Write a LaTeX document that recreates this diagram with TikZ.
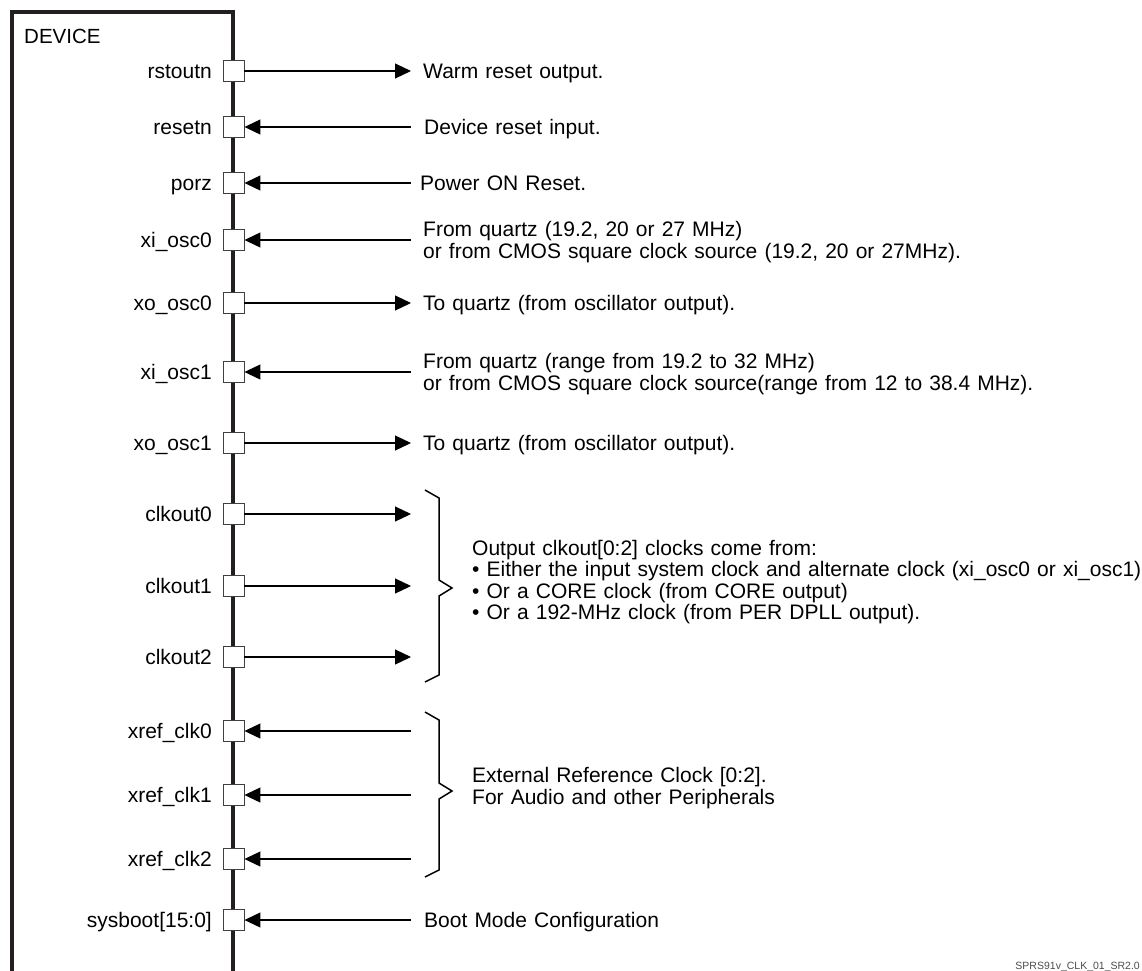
\documentclass[tikz,border=0pt]{standalone}
\usepackage{fontspec}
\setmainfont{Liberation Sans}
\usetikzlibrary{arrows.meta}
\definecolor{boxline}{HTML}{231F20}
\newcommand{\dfont}{\fontsize{21}{22}\selectfont\spaceskip=7.1pt plus 1pt minus 1pt\relax}
\newcommand{\mfont}{\fontsize{21}{21.5}\selectfont\spaceskip=7.1pt plus 1pt minus 1pt\relax}
\begin{document}
\begin{tikzpicture}[x=1pt,y=-1pt,
  pin/.style={draw=black!75,line width=0.9pt,fill=white,minimum size=21pt,inner sep=0pt},
  pinlabel/.style={anchor=base east,inner sep=0pt,font=\dfont},
  desc/.style={anchor=base west,inner sep=0pt,font=\dfont},
  mdesc/.style={anchor=west,inner sep=0pt,align=left,font=\mfont},
  conn/.style={line width=1.1pt},
  outarrow/.style={conn,-{Triangle[length=16pt,width=15pt]}},
  inarrow/.style={conn,{Triangle[length=16pt,width=15pt]}-},
  brace/.style={line width=1.5pt,line join=miter}]
\useasboundingbox (0,0) rectangle (1142,970);
% device box
\draw[boxline,line width=3.5pt] (12,972) -- (12,12) -- (233,12) -- (233,972);
\node[anchor=base west,inner sep=0pt,font=\fontsize{20.5}{22}\selectfont] (dev) at (24,43) {DEVICE};

% pins
\foreach \n/\y/\t in {p1/71/rstoutn,p2/127/resetn,p3/183/porz,p4/240/xi\_osc0,p5/303/xo\_osc0,p6/372/xi\_osc1,p7/443/xo\_osc1,p8/514/clkout0,p9/586/clkout1,p10/657/clkout2,p11/731/xref\_clk0,p12/795/xref\_clk1,p13/859/xref\_clk2,p14/920/sysboot[15:0]}{
  \node[pin] (\n) at (233.5,\y) {};
  \node[pinlabel] (l\n) at (212,\y+7.5) {\t};
  \coordinate (e\n) at (411,\y);
}

% connectors
\draw[outarrow] (p1.east) -- (ep1);
\draw[inarrow] (p2.east) -- (ep2);
\draw[inarrow] (p3.east) -- (ep3);
\draw[inarrow] (p4.east) -- (ep4);
\draw[outarrow] (p5.east) -- (ep5);
\draw[inarrow] (p6.east) -- (ep6);
\draw[outarrow] (p7.east) -- (ep7);
\draw[outarrow] (p8.east) -- (ep8);
\draw[outarrow] (p9.east) -- (ep9);
\draw[outarrow] (p10.east) -- (ep10);
\draw[inarrow] (p11.east) -- (ep11);
\draw[inarrow] (p12.east) -- (ep12);
\draw[inarrow] (p13.east) -- (ep13);
\draw[inarrow] (p14.east) -- (ep14);

% descriptions
\node[desc] (t1) at (423,78.5) {Warm reset output.};
\node[desc] (t2) at (424,134.5) {Device reset input.};
\node[desc] (t3) at (420,190.5) {Power ON Reset.};
\node[mdesc] (t4) at (423,242) {From quartz (19.2, 20 or 27 MHz)\\or from CMOS square clock source (19.2, 20 or 27MHz).};
\node[desc] (t5) at (423,310.5) {To quartz (from oscillator output).};
\node[mdesc] (t6) at (423,374) {From quartz (range from 19.2 to 32 MHz)\\or from CMOS square clock source(range from 12 to 38.4 MHz).};
\node[desc] (t7) at (423,450.5) {To quartz (from oscillator output).};
\node[mdesc] (t8) at (472,582) {Output clkout[0:2] clocks come from:\\\textbullet\ Either the input system clock and alternate clock (xi\_osc0 or xi\_osc1)\\\textbullet\ Or a CORE clock (from CORE output)\\\textbullet\ Or a 192-MHz clock (from PER DPLL output).};
\node[mdesc] (t9) at (472,788) {External Reference Clock [0:2].\\For Audio and other Peripherals};
\node[desc] (t10) at (424,927.5) {Boot Mode Configuration};

% braces
\draw[brace] (425,490) -- (439,498) -- (439,580) -- (452,588) -- (439,596) -- (439,675) -- (425,682);
\draw[brace] (425,712) -- (439,720) -- (439,783) -- (452,791) -- (439,799) -- (439,870) -- (425,877);

% footer
\node[anchor=base east,inner sep=0pt,text=black!70,font=\fontsize{10.5}{12}\selectfont] (foot) at (1140,969) {SPRS91v\_CLK\_01\_SR2.0};
\end{tikzpicture}
\end{document}
